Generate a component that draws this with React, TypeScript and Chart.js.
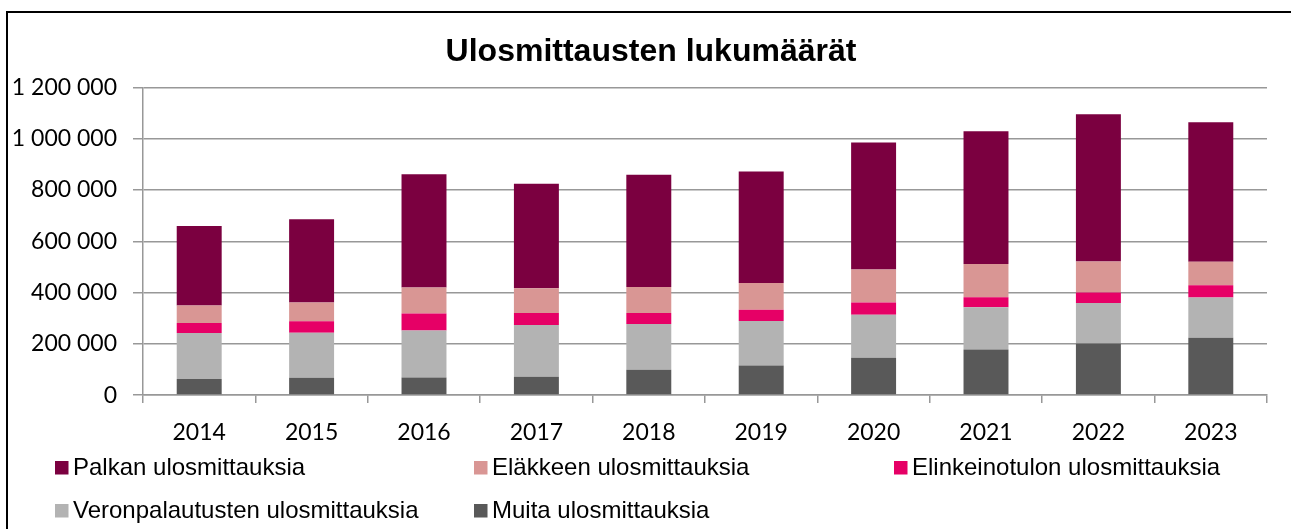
import React, { useEffect, useRef } from "react";
import { Chart, registerables } from "chart.js";

Chart.register(...registerables);

const TITLE = "Ulosmittausten lukumäärät";
const years = ["2014", "2015", "2016", "2017", "2018", "2019", "2020", "2021", "2022", "2023"];

const muita = [63000, 68000, 69000, 72000, 99000, 115000, 146000, 178000, 201000, 224000];
const veronpalautus = [179000, 175000, 183000, 201000, 178000, 174000, 167000, 165000, 158000, 157000];
const elinkeinotulo = [39000, 45000, 66000, 47000, 43000, 44000, 48000, 39000, 41000, 48000];
const elakkeen = [69000, 73000, 102000, 97000, 102000, 104000, 129000, 129000, 121000, 91000];
const palkan = [310000, 325000, 442000, 408000, 438000, 435000, 495000, 518000, 575000, 544000];

const Y_MIN = 0;
const Y_MAX = 1200000;
const Y_STEP = 200000;

const labels = {
  palkan: "Palkan ulosmittauksia",
  elakkeen: "Eläkkeen ulosmittauksia",
  elinkeino: "Elinkeinotulon ulosmittauksia",
  veron: "Veronpalautusten ulosmittauksia",
  muita: "Muita ulosmittauksia",
};

const colors = {
  palkan: "#7B0040",
  elakkeen: "#D99694",
  elinkeino: "#E60066",
  veron: "#B3B3B3",
  muita: "#595959",
};

// legend grid (order as in the reference), rows of dataset indices
const legendRows = [
  [4, 3, 2],
  [1, 0],
];

const fmt = (v: number) => String(v).replace(/\B(?=(\d{3})+(?!\d))/g, " ");

const titlePlugin = {
  id: "fixedTitle",
  afterDraw(chart: any) {
    const ctx = chart.ctx;
    ctx.save();
    ctx.font = "bold 32px 'Liberation Sans', Arial, sans-serif";
    ctx.fillStyle = "#000";
    ctx.textAlign = "center";
    ctx.textBaseline = "middle";
    ctx.fillText(TITLE, 651, 52);
    ctx.restore();
  },
};

const legendPlugin = {
  id: "gridLegend",
  afterDraw(chart: any) {
    const ctx = chart.ctx;
    const colX = [55, 474, 894];
    const rowY = [467.5, 510.5];
    ctx.save();
    ctx.font = "24px 'Liberation Sans', Arial, sans-serif";
    ctx.textBaseline = "middle";
    ctx.textAlign = "left";
    legendRows.forEach((row, r) => {
      row.forEach((di, c) => {
        const ds = chart.data.datasets[di];
        const x = colX[c];
        const y = rowY[r];
        ctx.fillStyle = ds.backgroundColor;
        ctx.fillRect(x, y - 6.5, 13.5, 13.5);
        ctx.fillStyle = "#000";
        ctx.fillText(ds.label, x + 18, y + 1);
      });
    });
    ctx.restore();
  },
};

export default function App() {
  const ref = useRef<HTMLCanvasElement | null>(null);

  useEffect(() => {
    if (!ref.current) return;
    const chart = new Chart(ref.current, {
      type: "bar",
      data: {
        labels: years,
        datasets: [
          { label: labels.muita, data: muita, backgroundColor: colors.muita },
          { label: labels.veron, data: veronpalautus, backgroundColor: colors.veron },
          { label: labels.elinkeino, data: elinkeinotulo, backgroundColor: colors.elinkeino },
          { label: labels.elakkeen, data: elakkeen, backgroundColor: colors.elakkeen },
          { label: labels.palkan, data: palkan, backgroundColor: colors.palkan },
        ],
      },
      options: {
        animation: false,
        responsive: false,
        maintainAspectRatio: false,
        devicePixelRatio: 1,
        datasets: {
          bar: { categoryPercentage: 1, barPercentage: 0.4, borderWidth: 0 },
        },
        layout: { padding: { top: 87.5, left: 0, right: 24, bottom: 66.3 } },
        plugins: {
          legend: { display: false },
          tooltip: { enabled: false },
          title: { display: false },
        },
        scales: {
          x: {
            stacked: true,
            grid: {
              offset: true,
              drawOnChartArea: false,
              drawTicks: true,
              tickLength: 8,
              color: "#989898",
              lineWidth: 1.5,
            },
            border: { display: true, color: "#989898", width: 1.5 },
            ticks: {
              color: "#000",
              padding: 16,
              font: { family: "Lato, 'Open Sans', sans-serif", size: 23 },
            },
          },
          y: {
            stacked: true,
            min: Y_MIN,
            max: Y_MAX,
            afterFit(scale: any) {
              scale.width = 143;
            },
            grid: {
              drawTicks: true,
              tickLength: 10,
              color: "#989898",
              lineWidth: 1.5,
            },
            border: { display: true, color: "#989898", width: 1.5 },
            ticks: {
              stepSize: Y_STEP,
              color: "#000",
              padding: 16,
              font: { family: "Lato, 'Open Sans', sans-serif", size: 23 },
              callback: (v: any) => fmt(Number(v)),
            },
          },
        },
      },
      plugins: [titlePlugin, legendPlugin],
    });
    return () => chart.destroy();
  }, []);

  return (
    <div
      style={{
        position: "fixed",
        left: 0,
        top: 0,
        width: 1291,
        height: 529,
        overflow: "hidden",
        background: "#fff",
      }}
    >
      <div
        style={{
          position: "absolute",
          left: 6,
          top: 11,
          width: 1400,
          height: 700,
          border: "2px solid #000",
          boxSizing: "border-box",
        }}
      />
      <canvas
        ref={ref}
        width={1291}
        height={529}
        style={{ position: "absolute", left: 0, top: 0, width: 1291, height: 529 }}
      />
    </div>
  );
}
